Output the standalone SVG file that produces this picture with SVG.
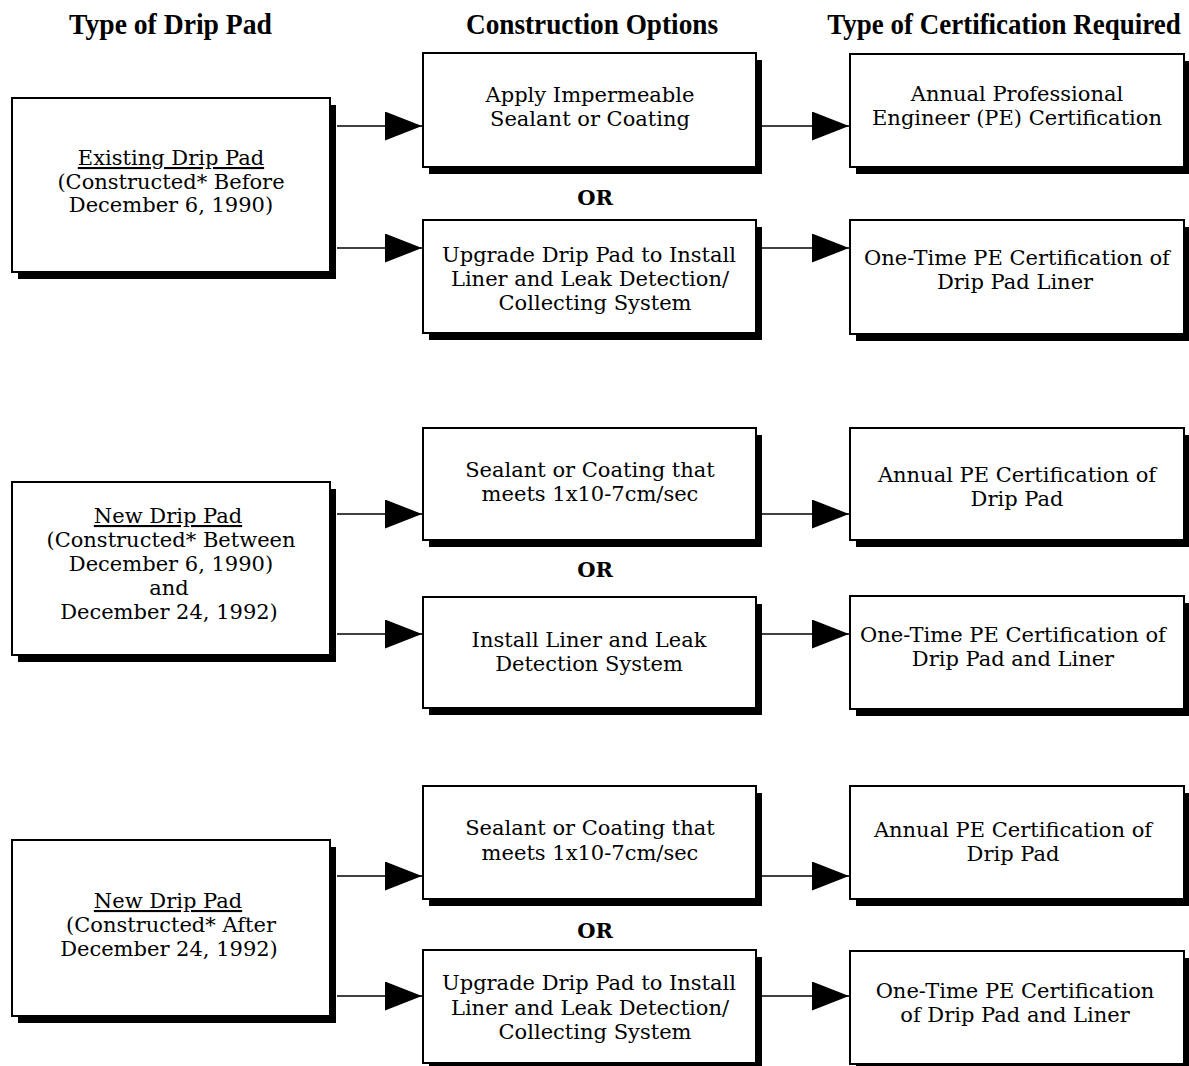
<svg xmlns="http://www.w3.org/2000/svg" width="1189" height="1066" viewBox="0 0 1189 1066">
<style>
  .box { fill: #fff; stroke: #000; stroke-width: 2; }
  .shadow { fill: #000; }
  .t { font-family: "DejaVu Serif", "Liberation Serif", serif; font-size: 21px; fill: #000; text-anchor: middle; }
  .u { text-decoration: underline; }
  .or { font-family: "DejaVu Serif", "Liberation Serif", serif; font-size: 21px; font-weight: bold; text-anchor: middle; }
  .h { font-family: "Liberation Serif", "Times New Roman", serif; font-size: 29px; font-weight: bold; text-anchor: middle; }
  .ln { stroke: #000; stroke-width: 1.3; fill: none; }
  .ah { fill: #000; }
</style>
<defs>
  <marker id="arrow" markerUnits="userSpaceOnUse" markerWidth="40" markerHeight="30" refX="37" refY="14.5" orient="auto">
    <path d="M0,0 L37,14.5 L0,29 Z" class="ah"/>
  </marker>
</defs>
<rect width="1189" height="1066" fill="#fff"/>

<g id="headers">
  <text class="h" transform="translate(170.5,34) scale(0.953,1)" x="0" y="0">Type of Drip Pad</text>
  <text class="h" transform="translate(592,34) scale(0.94,1)" x="0" y="0">Construction Options</text>
  <text class="h" transform="translate(1004,34) scale(0.93,1)" x="0" y="0">Type of Certification Required</text>
</g>

<g id="connectors">
  <line class="ln" x1="337" y1="126" x2="422" y2="126" marker-end="url(#arrow)"/>
  <line class="ln" x1="337" y1="248" x2="422" y2="248" marker-end="url(#arrow)"/>
  <line class="ln" x1="762" y1="126" x2="849" y2="126" marker-end="url(#arrow)"/>
  <line class="ln" x1="762" y1="248" x2="849" y2="248" marker-end="url(#arrow)"/>
  <line class="ln" x1="337" y1="514" x2="422" y2="514" marker-end="url(#arrow)"/>
  <line class="ln" x1="337" y1="634" x2="422" y2="634" marker-end="url(#arrow)"/>
  <line class="ln" x1="762" y1="514" x2="849" y2="514" marker-end="url(#arrow)"/>
  <line class="ln" x1="762" y1="634" x2="849" y2="634" marker-end="url(#arrow)"/>
  <line class="ln" x1="337" y1="876" x2="422" y2="876" marker-end="url(#arrow)"/>
  <line class="ln" x1="337" y1="996" x2="422" y2="996" marker-end="url(#arrow)"/>
  <line class="ln" x1="762" y1="876" x2="849" y2="876" marker-end="url(#arrow)"/>
  <line class="ln" x1="762" y1="996" x2="849" y2="996" marker-end="url(#arrow)"/>
</g>

<!-- Row 1 -->
<g id="existing-drip-pad">
  <rect class="shadow" x="18" y="105" width="318" height="174"/>
  <rect class="box" x="12" y="98" width="318" height="174"/>
  <text class="t" x="171" y="165"><tspan class="u">Existing Drip Pad</tspan></text>
  <text class="t" x="171" y="189">(Constructed* Before</text>
  <text class="t" x="171" y="212">December 6, 1990)</text>
</g>
<g id="apply-sealant">
  <rect class="shadow" x="429" y="60" width="333" height="114"/>
  <rect class="box" x="423" y="53" width="333" height="114"/>
  <text class="t" x="590" y="102">Apply Impermeable</text>
  <text class="t" x="590" y="126">Sealant or Coating</text>
</g>
<g id="annual-pe">
  <rect class="shadow" x="856" y="61" width="334" height="113"/>
  <rect class="box" x="850" y="54" width="334" height="113"/>
  <text class="t" x="1017" y="101">Annual Professional</text>
  <text class="t" x="1017" y="125">Engineer (PE) Certification</text>
</g>
<text id="or-1" class="or" x="595" y="205">OR</text>
<g id="upgrade-1">
  <rect class="shadow" x="429" y="227" width="333" height="113"/>
  <rect class="box" x="423" y="220" width="333" height="113"/>
  <text class="t" x="589" y="262">Upgrade Drip Pad to Install</text>
  <text class="t" x="590" y="286">Liner and Leak Detection/</text>
  <text class="t" x="595" y="310">Collecting System</text>
</g>
<g id="onetime-liner">
  <rect class="shadow" x="856" y="227" width="334" height="114"/>
  <rect class="box" x="850" y="220" width="334" height="114"/>
  <text class="t" x="1017" y="265">One-Time PE Certification of</text>
  <text class="t" x="1015" y="289">Drip Pad Liner</text>
</g>

<!-- Row 2 -->
<g id="new-drip-pad-1990">
  <rect class="shadow" x="18" y="489" width="318" height="173"/>
  <rect class="box" x="12" y="482" width="318" height="173"/>
  <text class="t" x="168" y="523"><tspan class="u">New Drip Pad</tspan></text>
  <text class="t" x="171" y="547">(Constructed* Between</text>
  <text class="t" x="171" y="571">December 6, 1990)</text>
  <text class="t" x="169" y="595">and</text>
  <text class="t" x="169" y="619">December 24, 1992)</text>
</g>
<g id="sealant-2">
  <rect class="shadow" x="429" y="435" width="333" height="112"/>
  <rect class="box" x="423" y="428" width="333" height="112"/>
  <text class="t" x="590" y="477">Sealant or Coating that</text>
  <text class="t" x="590" y="501">meets 1x10-7cm/sec</text>
</g>
<g id="annual-pe-2">
  <rect class="shadow" x="856" y="435" width="334" height="112"/>
  <rect class="box" x="850" y="428" width="334" height="112"/>
  <text class="t" x="1017" y="482">Annual PE Certification of</text>
  <text class="t" x="1017" y="506">Drip Pad</text>
</g>
<text id="or-2" class="or" x="595" y="577">OR</text>
<g id="install-liner-2">
  <rect class="shadow" x="429" y="604" width="333" height="111"/>
  <rect class="box" x="423" y="597" width="333" height="111"/>
  <text class="t" x="589" y="647">Install Liner and Leak</text>
  <text class="t" x="589" y="671">Detection System</text>
</g>
<g id="onetime-2">
  <rect class="shadow" x="856" y="603" width="334" height="113"/>
  <rect class="box" x="850" y="596" width="334" height="113"/>
  <text class="t" x="1013" y="642">One-Time PE Certification of</text>
  <text class="t" x="1013" y="666">Drip Pad and Liner</text>
</g>

<!-- Row 3 -->
<g id="new-drip-pad-1992">
  <rect class="shadow" x="18" y="847" width="318" height="176"/>
  <rect class="box" x="12" y="840" width="318" height="176"/>
  <text class="t" x="168" y="908"><tspan class="u">New Drip Pad</tspan></text>
  <text class="t" x="171" y="932">(Constructed* After</text>
  <text class="t" x="169" y="956">December 24, 1992)</text>
</g>
<g id="sealant-3">
  <rect class="shadow" x="429" y="793" width="333" height="113"/>
  <rect class="box" x="423" y="786" width="333" height="113"/>
  <text class="t" x="590" y="835">Sealant or Coating that</text>
  <text class="t" x="590" y="860">meets 1x10-7cm/sec</text>
</g>
<g id="annual-pe-3">
  <rect class="shadow" x="856" y="793" width="334" height="113"/>
  <rect class="box" x="850" y="786" width="334" height="113"/>
  <text class="t" x="1013" y="837">Annual PE Certification of</text>
  <text class="t" x="1013" y="861">Drip Pad</text>
</g>
<text id="or-3" class="or" x="595" y="938">OR</text>
<g id="upgrade-3">
  <rect class="shadow" x="429" y="957" width="333" height="113"/>
  <rect class="box" x="423" y="950" width="333" height="113"/>
  <text class="t" x="589" y="990">Upgrade Drip Pad to Install</text>
  <text class="t" x="590" y="1015">Liner and Leak Detection/</text>
  <text class="t" x="595" y="1039">Collecting System</text>
</g>
<g id="onetime-3">
  <rect class="shadow" x="856" y="958" width="334" height="113"/>
  <rect class="box" x="850" y="951" width="334" height="113"/>
  <text class="t" x="1015" y="998">One-Time PE Certification</text>
  <text class="t" x="1015" y="1022">of Drip Pad and Liner</text>
</g>
</svg>
